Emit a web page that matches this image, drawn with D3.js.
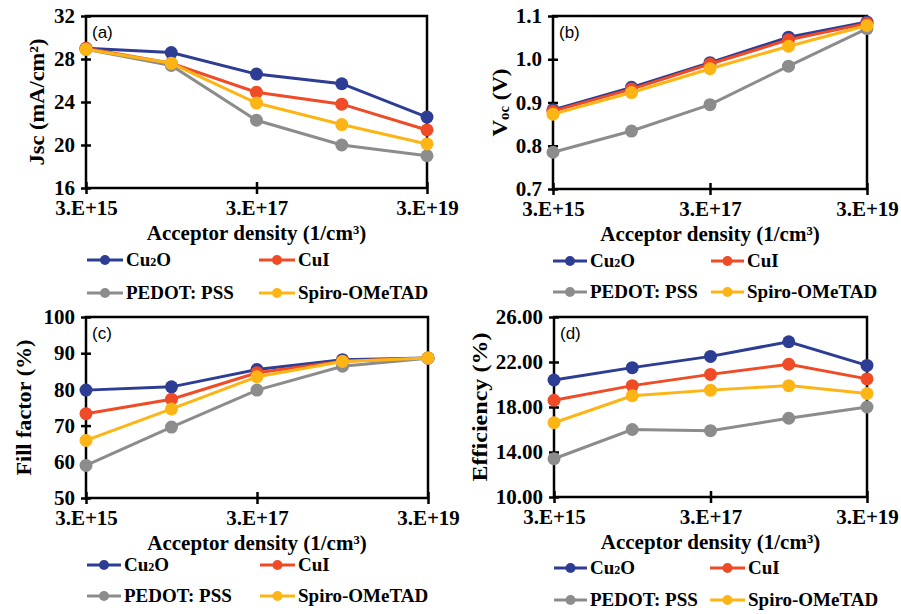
<!DOCTYPE html>
<html lang="en">
<head>
    <meta charset="UTF-8">
    <title>Acceptor density panels</title>
    <script src="https://d3js.org/d3.v7.min.js"></script>
    <style>
        body { margin: 0; background: #fff; }
        svg { display: block; }
    </style>
</head>
<body>
<script>
    // x values (acceptor density, 1/cm3)
    const densities = [3e15, 3e16, 3e17, 3e18, 3e19];
    const xTicks = [3e15, 3e17, 3e19];

    const seriesNames = ["Cu2O", "CuI", "PEDOT: PSS", "Spiro-OMeTAD"];
    const seriesColors = ["#2e3d94", "#ef4b27", "#8c8c8c", "#fdb515"];

    // order: Cu2O, CuI, PEDOT:PSS, Spiro-OMeTAD
    const jscValues = [
        [29.0, 28.6, 26.6, 25.7, 22.6],
        [29.0, 27.6, 24.9, 23.8, 21.4],
        [28.9, 27.4, 22.3, 20.0, 19.0],
        [28.9, 27.6, 23.9, 21.9, 20.1]
    ];
    const vocValues = [
        [0.883, 0.935, 0.992, 1.051, 1.086],
        [0.880, 0.931, 0.989, 1.045, 1.083],
        [0.785, 0.834, 0.895, 0.984, 1.071],
        [0.873, 0.923, 0.978, 1.030, 1.078]
    ];
    const ffValues = [
        [79.8, 80.7, 85.5, 88.2, 88.7],
        [73.3, 77.3, 84.6, 87.8, 88.7],
        [59.0, 69.6, 79.8, 86.4, 88.6],
        [65.9, 74.6, 83.5, 87.7, 88.7]
    ];
    const effValues = [
        [20.4, 21.5, 22.5, 23.8, 21.7],
        [18.6, 19.9, 20.9, 21.8, 20.5],
        [13.4, 16.0, 15.9, 17.0, 18.0],
        [16.6, 19.0, 19.5, 19.9, 19.2]
    ];

    const jscTicks = [16, 20, 24, 28, 32];
    const vocTicks = [0.7, 0.8, 0.9, 1.0, 1.1];
    const ffTicks = [50, 60, 70, 80, 90, 100];
    const effTicks = [10, 14, 18, 22, 26];

    const SERIF = "Liberation Serif";
    const SANS = "Liberation Sans";

    const panels = [
        { tag: "(a)", values: jscValues, ticks: jscTicks, fmt: d3.format("d"), title: "jsc", titleLen: 127,
          left: 86, right: 427, top: 16, bottom: 188, titleX: 36,
          legRows: [260, 293], legCols: [87, 259], legLen: [36, 36] },
        { tag: "(b)", values: vocValues, ticks: vocTicks, fmt: d3.format(".1f"), title: "voc", titleLen: 68,
          left: 553, right: 867, top: 16, bottom: 189, titleX: 499,
          legRows: [261, 292], legCols: [553, 711], legLen: [34, 33] },
        { tag: "(c)", values: ffValues, ticks: ffTicks, fmt: d3.format("d"), title: "Fill factor (%)", titleLen: 136,
          left: 86, right: 428, top: 317, bottom: 498, titleX: 23,
          legRows: [565, 596], legCols: [87, 260], legLen: [34, 35] },
        { tag: "(d)", values: effValues, ticks: effTicks, fmt: d3.format(".2f"), title: "Efficiency (%)", titleLen: 149,
          left: 554, right: 867, top: 317, bottom: 497, titleX: 479,
          legRows: [568, 600], legCols: [554, 710], legLen: [33, 35] }
    ];

    const svg = d3.select("body").append("svg")
        .attr("width", 901)
        .attr("height", 614);

    const expFormat = d => {
        const e = Math.floor(Math.log10(d) + 1e-9);
        return Math.round(d / Math.pow(10, e)) + ".E+" + e;
    };

    panels.forEach(p => {
        const ext = d3.extent(p.ticks);
        const x = d3.scaleLog().domain([3e15, 3e19]).range([p.left, p.right]);
        const y = d3.scaleLinear().domain(ext).range([p.bottom, p.top]);
        const g = svg.append("g");

        // frame
        g.append("rect")
            .attr("x", p.left).attr("y", p.top)
            .attr("width", p.right - p.left).attr("height", p.bottom - p.top)
            .attr("fill", "none").attr("stroke", "#000").attr("stroke-width", 2.5);

        // y axis
        const yAxis = g.append("g")
            .attr("transform", `translate(${p.left},0)`)
            .call(d3.axisLeft(y).tickValues(p.ticks).tickFormat(p.fmt).tickSize(5).tickPadding(6));
        yAxis.attr("font-family", SERIF).attr("font-size", 21).attr("font-weight", "bold");
        yAxis.select(".domain").remove();
        yAxis.selectAll(".tick line").attr("x1", -5).attr("x2", 5).attr("stroke-width", 2.5);

        // x axis
        const xAxis = g.append("g")
            .attr("transform", `translate(0,${p.bottom})`)
            .call(d3.axisBottom(x).tickValues(xTicks).tickFormat(expFormat).tickSize(5).tickPadding(7));
        xAxis.attr("font-family", SERIF).attr("font-size", 21).attr("font-weight", "bold");
        xAxis.select(".domain").remove();
        xAxis.selectAll(".tick line").attr("y1", -6).attr("y2", 6).attr("stroke-width", 2.5);

        // x title
        g.append("text")
            .attr("x", (p.left + p.right) / 2)
            .attr("y", p.bottom + 52)
            .attr("text-anchor", "middle")
            .attr("font-family", SERIF).attr("font-weight", "bold").attr("font-size", 21)
            .text("Acceptor density (1/cm³)");

        // y title
        const yc = (p.top + p.bottom) / 2;
        const yt = g.append("text")
            .attr("transform", `translate(${p.titleX},${yc}) rotate(-90)`)
            .attr("text-anchor", "middle")
            .attr("dominant-baseline", "central")
            .attr("font-family", SERIF).attr("font-weight", "bold").attr("font-size", 22)
            .attr("textLength", p.titleLen)
            .attr("lengthAdjust", "spacingAndGlyphs");
        if (p.title === "jsc") {
            yt.text("Jsc (mA/cm²)");
        } else if (p.title === "voc") {
            yt.append("tspan").text("V");
            yt.append("tspan").attr("font-size", 14).attr("dy", 5).text("oc");
            yt.append("tspan").attr("dy", -5).text(" (V)");
        } else {
            yt.text(p.title);
        }

        // panel tag
        g.append("text")
            .attr("x", p.left + 6)
            .attr("y", p.top + 22)
            .attr("font-family", SANS).attr("font-size", 17)
            .text(p.tag);

        // series lines and markers
        const line = d3.line()
            .x((d, i) => x(densities[i]))
            .y(d => y(d));

        p.values.forEach((vals, s) => {
            g.append("path")
                .datum(vals)
                .attr("d", line)
                .attr("fill", "none")
                .attr("stroke", seriesColors[s])
                .attr("stroke-width", 3);
            g.selectAll(null)
                .data(vals)
                .enter()
                .append("circle")
                .attr("cx", (d, i) => x(densities[i]))
                .attr("cy", d => y(d))
                .attr("r", 6.5)
                .attr("fill", seriesColors[s]);
        });

        // legend
        seriesNames.forEach((name, s) => {
            const row = Math.floor(s / 2), col = s % 2;
            const lx = p.legCols[col], ly = p.legRows[row], len = p.legLen[col];
            const lg = g.append("g");
            lg.append("line")
                .attr("x1", lx).attr("x2", lx + len)
                .attr("y1", ly).attr("y2", ly)
                .attr("stroke", seriesColors[s]).attr("stroke-width", 3);
            lg.append("circle")
                .attr("cx", lx + len / 2).attr("cy", ly).attr("r", 5)
                .attr("fill", seriesColors[s]);
            const t = lg.append("text")
                .attr("x", lx + len + 3)
                .attr("y", ly + 6)
                .attr("font-family", SERIF).attr("font-weight", "bold").attr("font-size", 19);
            if (name === "Cu2O") {
                t.append("tspan").text("Cu");
                t.append("tspan").attr("font-size", 12).text("2");
                t.append("tspan").text("O");
            } else {
                t.text(name);
            }
        });
    });
</script>
</body>
</html>
